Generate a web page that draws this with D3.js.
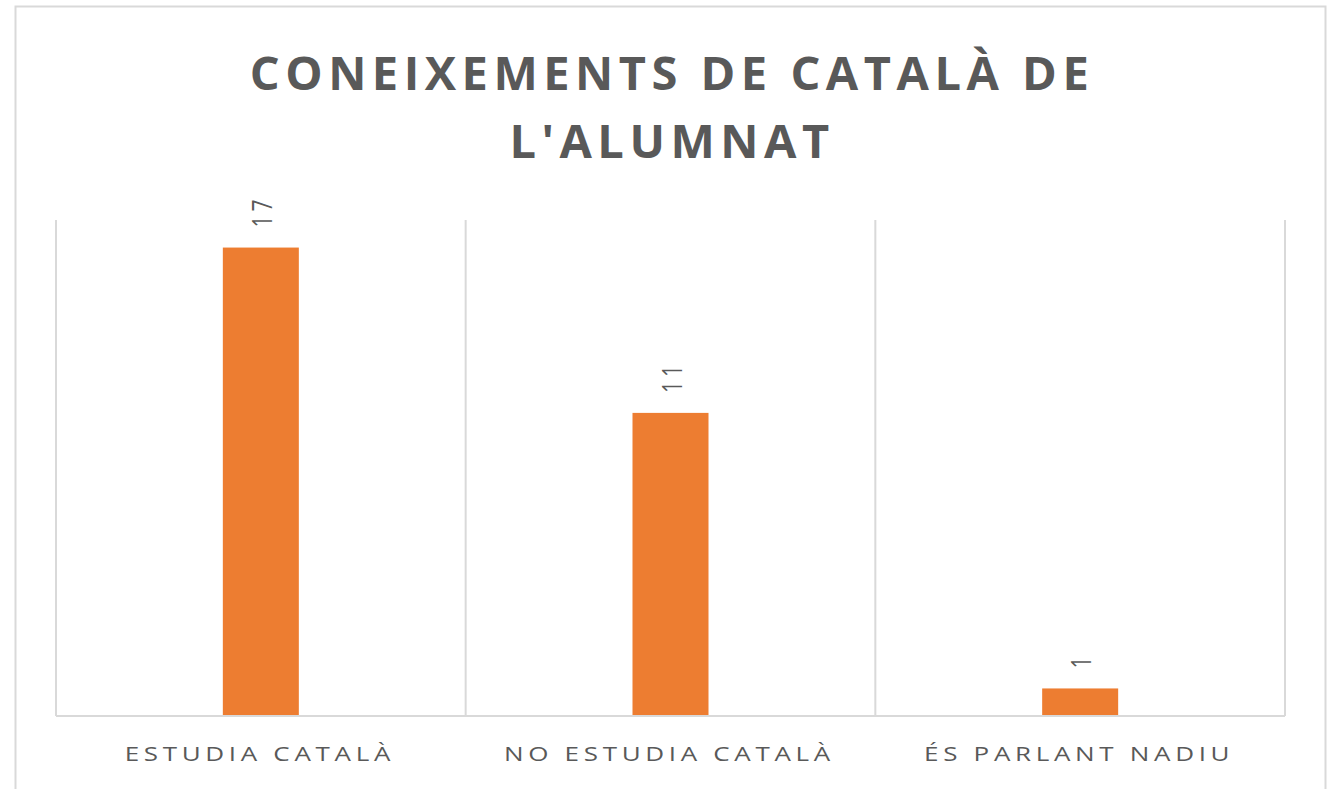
<!DOCTYPE html>
<html><head><meta charset="utf-8">
<script src="https://cdn.jsdelivr.net/npm/d3@7"></script>
<style>body{margin:0;background:#fff;} svg{display:block;}</style>
</head><body>
<svg id="c" width="1334" height="789"></svg>
<script>
const titleLines = ["CONEIXEMENTS DE CATALÀ DE", "L'ALUMNAT"];
const categories = ["ESTUDIA CATALÀ", "NO ESTUDIA CATALÀ", "ÉS PARLANT NADIU"];
const values = [17, 11, 1];
const yMax = 18;

const svg = d3.select("#c");
const m = {left: 56, right: 1285, top: 220, bottom: 716};

// outer chart border
svg.append("rect").attr("x", 15.5).attr("y", 6.5).attr("width", 1310).attr("height", 800)
  .attr("fill", "#fff").attr("stroke", "#d9d9d9").attr("stroke-width", 2);

const x = d3.scaleBand().domain(categories).range([m.left, m.right]).paddingInner(0).paddingOuter(0);
const y = d3.scaleLinear().domain([0, yMax]).range([m.bottom, m.top]);

// vertical category gridlines
const bounds = categories.map(c => x(c)).concat([x(categories[categories.length-1]) + x.bandwidth()]);
svg.append("g").selectAll("line").data(bounds).join("line")
  .attr("x1", d => d).attr("x2", d => d).attr("y1", y(yMax)).attr("y2", y(0))
  .attr("stroke", "#d9d9d9").attr("stroke-width", 2);

// baseline axis
svg.append("line").attr("x1", m.left).attr("x2", m.right).attr("y1", y(0)).attr("y2", y(0))
  .attr("stroke", "#d9d9d9").attr("stroke-width", 2);

// bars
const bw = 76;
svg.append("g").selectAll("rect").data(values).join("rect")
  .attr("x", (d, i) => x(categories[i]) + x.bandwidth()/2 - bw/2)
  .attr("y", d => y(d)).attr("width", bw).attr("height", d => y(0) - y(d) - 1)
  .attr("fill", "#ED7D31");

// data labels (rotated, horizontally stretched like the reference)
svg.append("g").selectAll("text").data(values).join("text")
  .attr("transform", (d, i) => `translate(${x(categories[i]) + x.bandwidth()/2 + 11},${y(d) - 20}) scale(1.3,1) rotate(-90)`)
  .attr("text-anchor", "start")
  .attr("font-family", "'Open Sans', sans-serif").attr("font-size", 21)
  .attr("letter-spacing", "4px")
  .attr("fill", "#595959").text(d => d);

// category labels
svg.append("g").selectAll("text").data(categories).join("text")
  .attr("transform", d => `translate(${x(d) + x.bandwidth()/2 - 1},761) scale(1.3,1)`)
  .attr("text-anchor", "middle")
  .attr("font-family", "'Open Sans', sans-serif").attr("font-size", 20)
  .attr("letter-spacing", "3.6px")
  .attr("fill", "#595959").text(d => d);

// title
svg.append("g").selectAll("text").data(titleLines).join("text")
  .attr("x", 670 + 2).attr("y", (d, i) => 90 + i * 68)
  .attr("text-anchor", "middle")
  .attr("font-family", "'Open Sans', sans-serif").attr("font-weight", "bold").attr("font-size", 47)
  .attr("letter-spacing", "5.5px")
  .attr("fill", "#595959").text(d => d);
</script>
</body></html>
